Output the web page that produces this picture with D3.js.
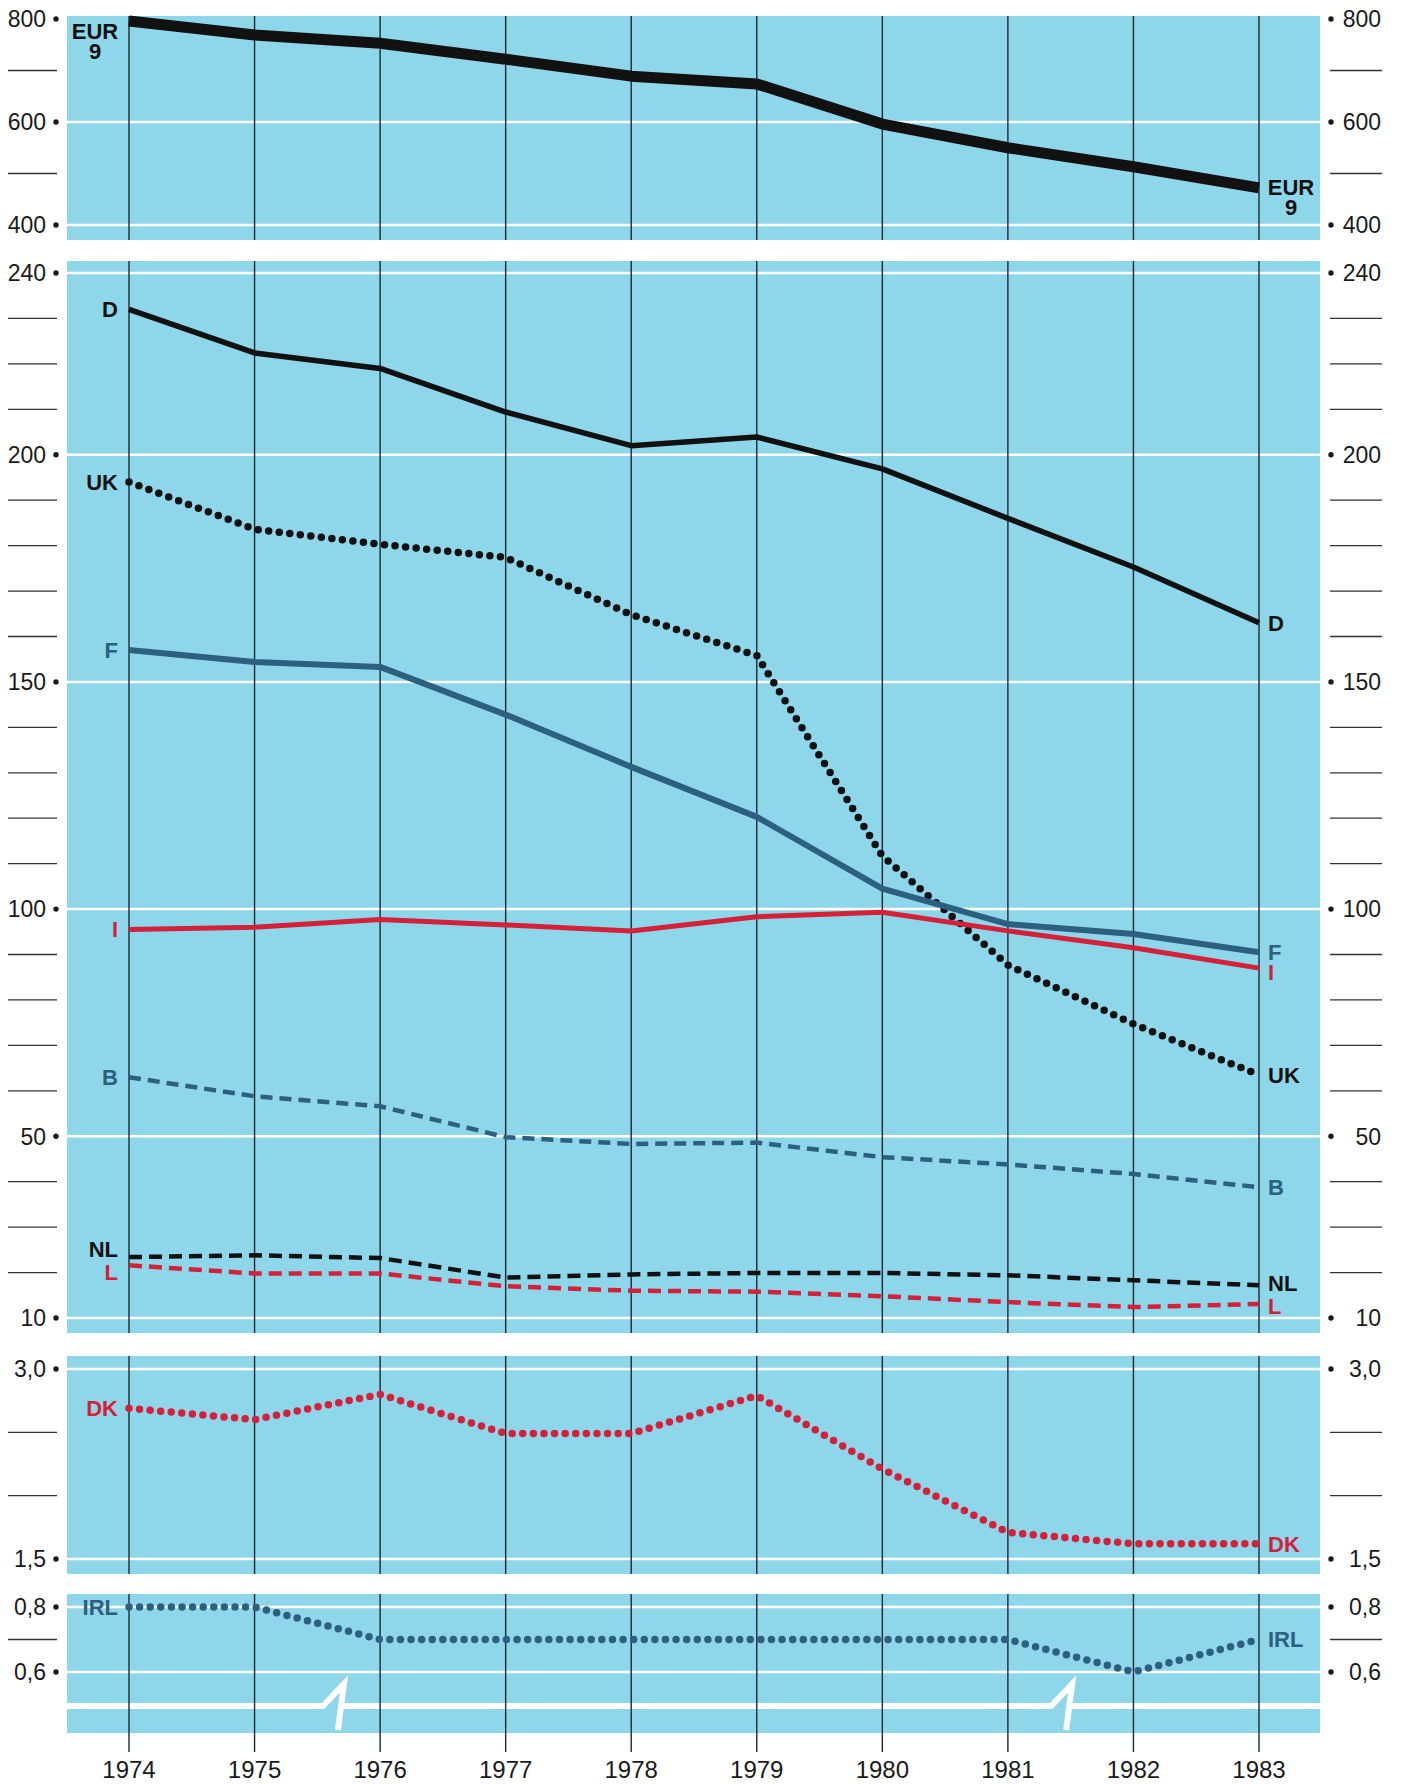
<!DOCTYPE html>
<html>
<head>
<meta charset="utf-8">
<script src="https://cdn.jsdelivr.net/npm/d3@7"></script>
<style>
  body { margin: 0; background: #fff; }
  svg { display: block; font-family: "Liberation Sans", Arial, Helvetica, sans-serif; }
</style>
</head>
<body>
<svg width="1402" height="1784"></svg>
<script>

// values (per year, 1974 - 1983)
const years = [1974, 1975, 1976, 1977, 1978, 1979, 1980, 1981, 1982, 1983];

const eur9 = [796, 769, 753, 722, 689, 674, 596, 550, 513, 472];
const dValues = [232, 222.4, 219, 209.4, 202, 203.9, 196.9, 186, 175.3, 163];
const ukValues = [194, 183.6, 180.3, 177.4, 164.8, 155.8, 111.7, 87.7, 74.7, 63.5];
const fValues = [157, 154.4, 153.3, 142.8, 131.3, 120.3, 104.5, 96.7, 94.5, 90.5];
const iValues = [95.5, 96, 97.7, 96.5, 95.2, 98.3, 99.3, 95.2, 91.5, 87];
const bValues = [63, 58.8, 56.6, 49.8, 48.3, 48.6, 45.4, 43.8, 41.7, 38.8];
const nlValues = [23.4, 23.8, 23.2, 18.9, 19.6, 19.9, 19.9, 19.4, 18.3, 17.2];
const lValues = [21.6, 19.8, 19.8, 17, 16, 15.8, 14.8, 13.5, 12.4, 13.1];
const dkValues = [2.69, 2.6, 2.8, 2.49, 2.49, 2.79, 2.21, 1.71, 1.62, 1.62];
const irlValues = [0.8, 0.8, 0.7, 0.7, 0.7, 0.7, 0.7, 0.7, 0.6, 0.7];

// axis ticks
const eurTicks = [800, 600, 400];
const eurTickLabels = ["800", "600", "400"];
const eurMinor = [700, 500];
const mainTicks = [240, 200, 150, 100, 50, 10];
const mainTickLabels = ["240", "200", "150", "100", "50", "10"];
const mainMinor = [230, 220, 210, 190, 180, 170, 160, 140, 130, 120, 110, 90, 80, 70, 60, 40, 30, 20];
const dkTicks = [3.0, 1.5];
const dkTickLabels = ["3,0", "1,5"];
const dkMinor = [2.5, 2.0];
const irlTicks = [0.8, 0.6];
const irlTickLabels = ["0,8", "0,6"];
const irlMinor = [0.7];

// years where the axis-break zigzag sits
const breakYears = [1975.68, 1981.48];

const BG = "#8ed6e9", BLUE = "#2c5f80", RED = "#d42039", BLACK = "#111";

let svg = d3.select("svg");

let x = d3.scaleLinear().domain([1974, 1983]).range([129, 1259]);
let left = 67, right = 1320;

// panel layout
let panels = [
	{top: 16, bottom: 240, y: d3.scaleLinear().domain([400, 800]).range([225, 19]),
		ticks: eurTicks, labels: eurTickLabels, minor: eurMinor, grid: [600, 400]},
	{top: 261, bottom: 1333, y: d3.scaleLinear().domain([10, 240]).range([1318, 273]),
		ticks: mainTicks, labels: mainTickLabels, minor: mainMinor, grid: mainTicks},
	{top: 1356, bottom: 1574, y: d3.scaleLinear().domain([1.5, 3.0]).range([1559, 1369]),
		ticks: dkTicks, labels: dkTickLabels, minor: dkMinor, grid: dkTicks},
	{top: 1594, bottom: 1733, y: d3.scaleLinear().domain([0.6, 0.8]).range([1672, 1607]),
		ticks: irlTicks, labels: irlTickLabels, minor: irlMinor, grid: irlTicks}
];

panels.forEach((p, pi) => {
	let g = svg.append("g");

	g.append("rect")
		.attr("x", left).attr("y", p.top)
		.attr("width", right - left).attr("height", p.bottom - p.top)
		.attr("fill", BG);

	//white gridlines
	g.selectAll(".grid").data(p.grid).enter().append("line")
		.attr("x1", left).attr("x2", right)
		.attr("y1", d => p.y(d)).attr("y2", d => p.y(d))
		.attr("stroke", "#fff").attr("stroke-width", 2.5);

	//axis break in the last panel
	if (pi === panels.length - 1) {
		let yb = 1706;
		let pts = [[left, yb]];
		breakYears.forEach(by => {
			let bx = x(by);
			pts.push([bx - 17, yb], [bx + 4, yb - 22], [bx - 2, yb + 24]);
			g.append("path")
				.attr("d", d3.line()(pts))
				.attr("fill", "none").attr("stroke", "#fff").attr("stroke-width", 6)
				.attr("stroke-linejoin", "miter");
			pts = [[bx + 1, yb]];
		});
		pts.push([right, yb]);
		g.append("path")
			.attr("d", d3.line()(pts))
			.attr("fill", "none").attr("stroke", "#fff").attr("stroke-width", 6);
	}

	//year lines
	g.selectAll(".yr").data(years).enter().append("line")
		.attr("x1", d => x(d)).attr("x2", d => x(d))
		.attr("y1", p.top).attr("y2", pi === panels.length - 1 ? 1752 : p.bottom)
		.attr("stroke", "#1c2a30").attr("stroke-width", 1.4);

	//left + right minor ticks
	g.selectAll(".minL").data(p.minor).enter().append("line")
		.attr("x1", 8).attr("x2", 57)
		.attr("y1", d => p.y(d)).attr("y2", d => p.y(d))
		.attr("stroke", "#333").attr("stroke-width", 1.3);
	g.selectAll(".minR").data(p.minor).enter().append("line")
		.attr("x1", 1330).attr("x2", 1382)
		.attr("y1", d => p.y(d)).attr("y2", d => p.y(d))
		.attr("stroke", "#333").attr("stroke-width", 1.3);

	//labelled ticks: "800 •" left and "• 800" right
	p.ticks.forEach((t, i) => {
		let ty = p.y(t);
		g.append("text")
			.attr("x", 46).attr("y", ty).attr("dy", "0.36em")
			.attr("text-anchor", "end")
			.attr("font-size", 23).attr("fill", "#1a1a1a")
			.text(p.labels[i]);
		g.append("circle").attr("cx", 56).attr("cy", ty).attr("r", 2.7).attr("fill", "#1a1a1a");
		g.append("circle").attr("cx", 1331).attr("cy", ty).attr("r", 2.7).attr("fill", "#1a1a1a");
		g.append("text")
			.attr("x", 1381).attr("y", ty).attr("dy", "0.36em")
			.attr("text-anchor", "end")
			.attr("font-size", 23).attr("fill", "#1a1a1a")
			.text(p.labels[i]);
	});
});

// year labels
svg.selectAll(".yearLabel").data(years).enter().append("text")
	.attr("x", d => x(d)).attr("y", 1778)
	.attr("text-anchor", "middle")
	.attr("font-size", 24).attr("fill", "#1a1a1a")
	.text(d => d);

// series styles
const DOT = {dash: "0 10.6", width: 7.5};
let series = [
	{name: "D", values: dValues, panel: 1, color: BLACK, width: 5.5},
	{name: "UK", values: ukValues, panel: 1, color: BLACK, dot: true},
	{name: "F", values: fValues, panel: 1, color: BLUE, width: 6, rdy: 0},
	{name: "I", values: iValues, panel: 1, color: RED, width: 5, rdy: 4},
	{name: "B", values: bValues, panel: 1, color: BLUE, width: 4.5, dash: "12 7"},
	{name: "NL", values: nlValues, panel: 1, color: BLACK, width: 4.5, dash: "13 7", ldy: -8, rdy: -2},
	{name: "L", values: lValues, panel: 1, color: RED, width: 4.5, dash: "13 7", ldy: 7, rdy: 2},
	{name: "DK", values: dkValues, panel: 2, color: RED, dot: true},
	{name: "IRL", values: irlValues, panel: 3, color: BLUE, dot: true},
	{name: "EUR9", values: eur9, panel: 0, color: BLACK, width: 11}
];

series.forEach(s => {
	let y = panels[s.panel].y;
	let line = d3.line()
		.x((d, i) => x(years[i]))
		.y(d => y(d));

	svg.append("path")
		.datum(s.values)
		.attr("d", line)
		.attr("fill", "none")
		.attr("stroke", s.color)
		.attr("stroke-width", s.dot ? DOT.width : s.width)
		.attr("stroke-dasharray", s.dot ? DOT.dash : (s.dash || null))
		.attr("stroke-linecap", s.dot ? "round" : "butt")
		.attr("stroke-linejoin", "round");

	let y0 = y(s.values[0]), y1 = y(s.values[s.values.length - 1]);

	if (s.name === "EUR9") {
		// two line label, EUR over 9
		[[x(1974) - 34, y0 + 18, y0 + 38], [x(1983) + 32, y1 + 7, y1 + 27]].forEach(pos => {
			let t = svg.append("text")
				.attr("text-anchor", "middle")
				.attr("font-size", 22).attr("font-weight", "bold")
				.attr("fill", BLACK);
			t.append("tspan").attr("x", pos[0]).attr("y", pos[1]).text("EUR");
			t.append("tspan").attr("x", pos[0]).attr("y", pos[2]).text("9");
		});
		return;
	}

	svg.append("text")
		.attr("x", x(1974) - 11).attr("y", y0 + (s.ldy || 0)).attr("dy", "0.36em")
		.attr("text-anchor", "end")
		.attr("font-size", 22).attr("font-weight", "bold")
		.attr("fill", s.color)
		.text(s.name);

	svg.append("text")
		.attr("x", x(1983) + 9).attr("y", y1 + (s.rdy || 0)).attr("dy", "0.36em")
		.attr("font-size", 22).attr("font-weight", "bold")
		.attr("fill", s.color)
		.text(s.name);
});

</script>
</body>
</html>
